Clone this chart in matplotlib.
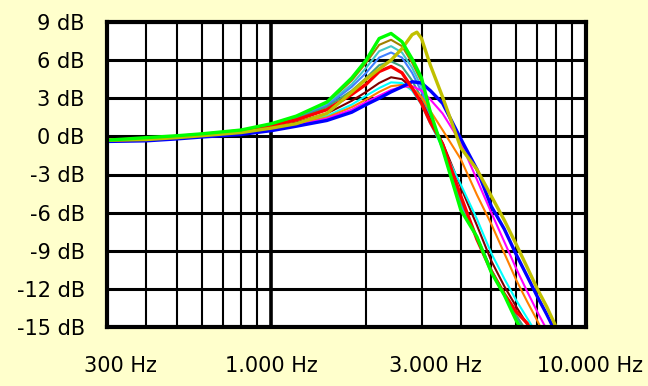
import numpy as np
import matplotlib.pyplot as plt
from matplotlib.ticker import FixedLocator, NullFormatter
import matplotlib.transforms as mtransforms

# frequency points (Hz) and gain (dB)
freq = [300, 400, 500, 600, 800, 1000, 1200, 1500, 1800, 2000, 2200, 2400,
        2600, 2800, 3000, 3200, 3500, 4000, 4500, 5000, 5500, 6000, 6500,
        7000, 7500, 8000]

green = [-0.3, -0.1, 0.05, 0.2, 0.5, 1.0, 1.6, 2.7, 4.6, 6.0, 7.7, 8.1,
         7.45, 6.1, 4.6, 1.9, -1.0, -5.8, -7.9, -10.7, -12.5, -14.5, -16.0,
         -17.5, -19.0, -20.5]
olive = [-0.3, -0.12, 0.03, 0.18, 0.48, 0.95, 1.55, 2.6, 4.4, 5.8, 7.2, 7.6,
         7.1, 5.8, 4.3, 1.7, -1.0, -5.6, -7.9, -10.6, -12.4, -14.3, -15.8,
         -17.3, -19.0, -20.0]
aqua = [-0.3, -0.13, 0.02, 0.17, 0.47, 0.93, 1.5, 2.5, 4.1, 5.4, 6.7, 7.1,
        6.6, 5.4, 3.9, 1.6, -0.9, -5.4, -7.9, -10.6, -12.4, -14.2, -15.7,
        -17.2, -19.0, -20.0]
skyblue = [-0.3, -0.14, 0.02, 0.17, 0.47, 0.92, 1.45, 2.4, 3.9, 5.0, 6.2, 6.6,
           6.2, 5.0, 3.5, 1.4, -0.9, -5.2, -7.9, -10.5, -12.4, -14.1, -15.5,
           -17.0, -18.5, -20.0]
teal = [-0.3, -0.15, 0.01, 0.16, 0.46, 0.9, 1.4, 2.3, 3.6, 4.6, 5.6, 5.9,
        5.5, 4.4, 3.0, 1.2, -0.8, -5.0, -8.0, -10.6, -12.5, -14.1, -15.4,
        -17.0, -18.5, -20.0]
red = [-0.3, -0.2, 0.0, 0.15, 0.45, 0.85, 1.3, 2.1, 3.3, 4.1, 5.1, 5.5,
       5.0, 3.8, 2.6, 1.1, -0.6, -4.7, -8.1, -10.6, -12.4, -13.8, -14.7,
       -16.2, -17.5, -19.0]
darkred = [-0.33, -0.22, -0.05, 0.1, 0.35, 0.7, 1.1, 1.8, 2.8, 3.5, 4.2, 4.65,
           4.5, 3.8, 2.7, 1.3, -0.5, -4.0, -7.0, -9.8, -11.8, -13.4, -14.8,
           -16.2, -17.5, -19.0]
cyan = [-0.35, -0.25, -0.1, 0.05, 0.3, 0.6, 1.0, 1.6, 2.5, 3.2, 3.8, 4.25,
        4.2, 3.6, 2.5, 1.0, -0.9, -3.8, -6.5, -9.2, -11.2, -12.9, -14.3,
        -15.6, -17.0, -18.5]
orange = [-0.37, -0.28, -0.13, 0.02, 0.25, 0.55, 0.95, 1.5, 2.3, 2.9, 3.5, 3.95,
          4.05, 3.8, 3.1, 2.0, 0.5, -1.8, -4.6, -6.9, -9.2, -11.3, -13.0,
          -14.5, -16.0, -17.5]
magenta = [-0.38, -0.3, -0.16, 0.0, 0.2, 0.5, 0.87, 1.4, 2.1, 2.7, 3.2, 3.65,
           3.9, 3.95, 3.6, 2.9, 1.8, -0.5, -3.4, -6.0, -8.3, -10.4, -12.2,
           -13.8, -15.2, -16.6]
blue = [-0.4, -0.35, -0.2, -0.05, 0.15, 0.45, 0.8, 1.25, 1.9, 2.5, 3.0, 3.5,
        3.9, 4.3, 4.2, 3.6, 2.6, -0.2, -2.6, -5.5, -7.3, -9.3, -11.0,
        -12.6, -14.0, -15.4]

# the olive-yellow curve peaks later, so it gets its own frequency points
yellow_freq = [300, 400, 500, 600, 800, 1000, 1200, 1500, 1800, 2000, 2200,
               2400, 2600, 2800, 2900, 3000, 3200, 3500, 4000, 4500, 5000,
               5500, 6000, 6500, 7000, 7500, 8000]
yellow = [-0.3, -0.25, -0.1, 0.05, 0.3, 0.65, 1.0, 1.8, 3.5, 4.5, 5.3, 6.0,
          6.9, 8.0, 8.2, 7.7, 5.6, 3.1, -0.9, -2.6, -4.7, -6.6, -8.5, -10.3,
          -12.0, -13.4, -14.9]

xticks = [300, 1000, 3000, 10000]
xlabels = ["300 Hz", "1.000 Hz", "3.000 Hz", "10.000 Hz"]
yticks = [9, 6, 3, 0, -3, -6, -9, -12, -15]
ylabels = ["%d dB" % v for v in yticks]

bg = "#FFFFCC"
plt.rcParams['font.family'] = ['DejaVu Sans']

fig = plt.figure(figsize=(6.48, 3.86), dpi=100, facecolor=bg)
ax = fig.add_axes([107 / 648, 1 - 327 / 386, 479 / 648, 305 / 386])
ax.set_facecolor("white")

# grid
minor = [400, 500, 600, 700, 800, 900, 2000, 3000, 4000, 5000, 6000, 7000, 8000, 9000]
for f in minor:
    ax.axvline(f, color="black", lw=1.5, zorder=1)
ax.axvline(1000, color="black", lw=2.6, zorder=1)
for v in yticks:
    ax.axhline(v, color="black", lw=2.2, zorder=1)

thin = [(olive, "#A08000"), (aqua, "#40C8C8"), (skyblue, "#4080FF"),
        (teal, "#40A080"), (darkred, "#800000"), (cyan, "#00FFFF"),
        (orange, "#FF8000"), (magenta, "#FF00FF")]
for vals, c in thin:
    ax.plot(freq, vals, color=c, lw=1.5, zorder=3)
ax.plot(freq, blue, color="#0000FF", lw=2.4, zorder=4)
ax.plot(freq, red, color="#FF0000", lw=2.4, zorder=4)
ax.plot(yellow_freq, yellow, color="#C0C000", lw=2.4, zorder=5)
ax.plot(freq, green, color="#00FF00", lw=2.4, zorder=6)

ax.set_xscale("log")
ax.set_xlim(300, 10000)
ax.set_ylim(-15, 9)
ax.xaxis.set_major_locator(FixedLocator(xticks))
ax.set_xticklabels(xlabels)
ax.xaxis.set_minor_locator(FixedLocator([]))
ax.xaxis.set_minor_formatter(NullFormatter())
ax.set_yticks(yticks)
ax.set_yticklabels(ylabels)
ax.tick_params(length=0, labelsize=15, pad=16)
ax.tick_params(axis="x", pad=21)

# nudge the 300 Hz and 3.000 Hz labels as in the reference
shifts = {"300 Hz": 13, "3.000 Hz": 14, "10.000 Hz": 4}
for lab in ax.get_xticklabels():
    dx = shifts.get(lab.get_text(), 0)
    if dx:
        lab.set_transform(lab.get_transform() +
                          mtransforms.ScaledTranslation(dx / 100, 0, fig.dpi_scale_trans))

for s in ax.spines.values():
    s.set_linewidth(3)
    s.set_zorder(10)

fig.savefig("out.png", dpi=100, facecolor=bg)
